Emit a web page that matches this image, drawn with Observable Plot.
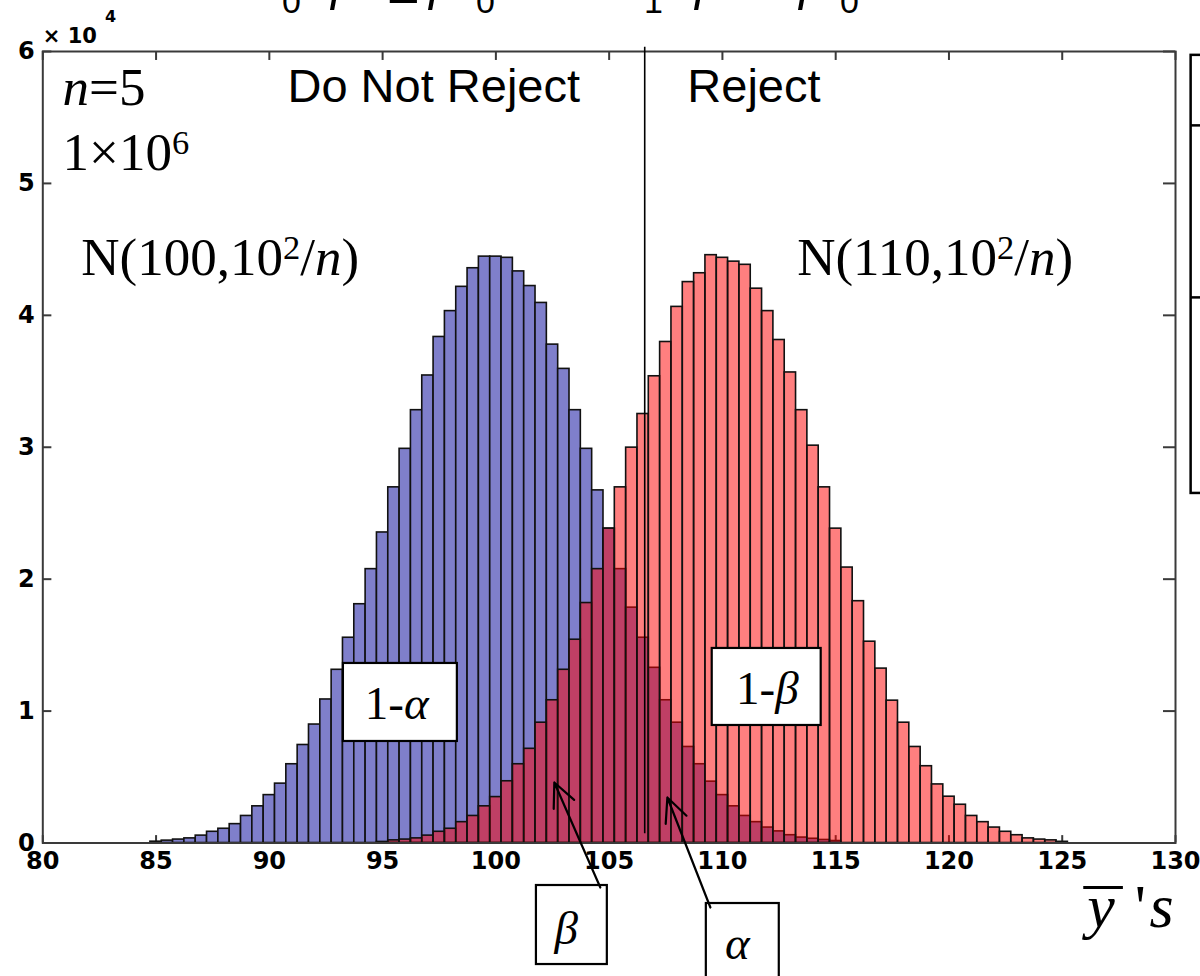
<!DOCTYPE html>
<html>
<head>
<meta charset="utf-8">
<script src="https://cdn.jsdelivr.net/npm/d3@7"></script>
<script src="https://cdn.jsdelivr.net/npm/@observablehq/plot@0.6"></script>
<style>
  html, body { margin: 0; padding: 0; background: #fff; overflow: hidden; }
  #wrap { position: relative; width: 1200px; height: 976px; overflow: hidden; }
  #header { position: absolute; left: 0; top: 0; pointer-events: none; }
</style>
</head>
<body>
<div id="wrap"></div>
<script>
// ---------- data (bins of width 0.5) ----------
const binWidth = 0.5;
const blueCenters = [85,85.5,86,86.5,87,87.5,88,88.5,89,89.5,90,90.5,91,91.5,92,92.5,93,93.5,94,94.5,95,95.5,96,96.5,97,97.5,98,98.5,99,99.5,100,100.5,101,101.5,102,102.5,103,103.5,104,104.5,105,105.5,106,106.5,107,107.5,108,108.5,109,109.5,110,110.5,111,111.5,112,112.5,113,113.5,114,114.5,115];
const blueCounts = [100,180,260,350,560,850,1080,1430,2050,2780,
  3630,4500,5970,7430,8980,10880,13130,15560,18100,20760,
  23540,26960,29880,32810,35440,38360,40320,42160,43570,44450,
  44450,44360,43330,42220,40940,37780,35940,32810,29880,26730,
  23830,20760,17840,15560,13280,10820,9120,7280,5970,4650,
  3630,2780,2050,1580,1170,880,590,410,320,230,150];
const redCenters = [95,95.5,96,96.5,97,97.5,98,98.5,99,99.5,100,100.5,101,101.5,102,102.5,103,103.5,104,104.5,105,105.5,106,106.5,107,107.5,108,108.5,109,109.5,110,110.5,111,111.5,112,112.5,113,113.5,114,114.5,115,115.5,116,116.5,117,117.5,118,118.5,119,119.5,120,120.5,121,121.5,122,122.5,123,123.5,124,124.5,125];
const redCounts = [80,200,260,350,560,850,1080,1580,2050,2780,
  3480,4680,5970,7140,9120,10820,13130,15410,18190,20760,
  23830,26960,29970,32520,35380,37980,40640,42520,43190,44560,
  44360,44070,43830,42020,40320,38130,35670,32810,30120,26960,
  23830,20880,18330,15260,13220,10790,9120,7280,5820,4440,
  3510,2900,2050,1580,1170,850,590,350,260,200,90];
const criticalValue = [106.57];

const xTicks = [80,85,90,95,100,105,110,115,120,125,130];
const yTicks = [0,10000,20000,30000,40000,50000,60000];

// annotation texts
const serifLabels = [
  {text: "<i>n</i>=5", x: 80.87, y: 55920},
  {text: "1×10<sup>6</sup>", x: 80.87, y: 50990},
  {text: "N(100,10<sup>2</sup>/<i>n</i>)", x: 81.7, y: 43030},
  {text: "N(110,10<sup>2</sup>/<i>n</i>)", x: 113.3, y: 43030}
];
const sansLabels = [
  {text: "Do Not Reject", x: 90.8, y: 56145},
  {text: "Reject", x: 108.45, y: 56145}
];
const boxes = [
  {x1: 93.27, x2: 98.30, y1: 7696, y2: 13610},
  {x1: 109.55, x2: 114.36, y1: 8909, y2: 14747},
  {x1: 101.79, x2: 104.92, y1: -9212, y2: -3222},
  {x1: 109.29, x2: 112.51, y1: -11500, y2: -4587}
];
const boxLabels = [
  {text: "1-<i>α</i>", x: 95.62, y: 10577},
  {text: "1-<i>β</i>", x: 111.98, y: 11714},
  {text: "<i>β</i>", x: 103.1, y: -6482},
  {text: "<i>α</i>", x: 110.66, y: -7620}
];
const arrows = [
  {x1: 104.61, y1: -3374, x2: 102.58, y2: 4587},
  {x1: 109.47, y1: -4890, x2: 107.57, y2: 3450}
];
const axisLabelParts = [
  {text: "y", x: 126.1, y: -6331, italic: true},
  {text: "'", x: 128.2, y: -6331, italic: false},
  {text: "s", x: 128.85, y: -6331, italic: true}
];
const overline = [{x1: 125.95, x2: 127.7, y: -3374}];
const legendBox = [{x1: 130.69, x2: 131.8, y1: 26499, y2: 59708}];
const legendRows = [54400, 41360];

// ---------- tables for the marks ----------
const blueBins = blueCenters.map((c, i) => ({x1: c - binWidth / 2, x2: c + binWidth / 2, y: blueCounts[i]}));
const redBins = redCenters.map((c, i) => ({x1: c - binWidth / 2, x2: c + binWidth / 2, y: redCounts[i]}));

const tickFont = "DejaVu Sans";
const serif = "Liberation Serif, Times New Roman, serif";
const sans = "Liberation Sans, Arial, sans-serif";
const frameColor = "#3a3a3a";

const chart = Plot.plot({
  width: 1200,
  height: 976,
  marginLeft: 42.3,
  marginRight: 25,
  marginTop: 51,
  marginBottom: 133.5,
  x: {domain: [80, 130]},
  y: {domain: [0, 60000]},
  style: {background: "white", fontFamily: sans},
  marks: [
    // inward ticks (drawn below the bars)
    Plot.ruleX(xTicks, {y1: 0, y2: 560, stroke: frameColor, strokeWidth: 2}),
    Plot.ruleX(xTicks, {y1: 59320, y2: 60000, stroke: frameColor, strokeWidth: 2}),
    Plot.ruleY(yTicks, {x1: 80, x2: 80.4, stroke: frameColor, strokeWidth: 2}),
    Plot.ruleY(yTicks, {x1: 129.47, x2: 130, stroke: frameColor, strokeWidth: 2}),
    // histograms
    Plot.rectY(blueBins, {x1: "x1", x2: "x2", y: "y", fill: "#7f7fcb", stroke: "#111", strokeWidth: 1.6}),
    Plot.rectY(redBins, {x1: "x1", x2: "x2", y: "y", fill: "#ff0000", fillOpacity: 0.5, stroke: "#111", strokeWidth: 1.6}),
    Plot.frame({stroke: frameColor, strokeWidth: 2}),
    // critical value line
    Plot.ruleX(criticalValue, {y1: 700, y2: 60315, stroke: "black", strokeWidth: 1.6}),
    // axes
    Plot.axisX({ticks: xTicks, tickSize: 0, tickPadding: 9, label: null, fontSize: 24, fontWeight: "bold", fontFamily: tickFont, tickFormat: d => String(d)}),
    Plot.axisY({ticks: yTicks, tickSize: 0, tickPadding: 8, label: null, fontSize: 24, fontWeight: "bold", fontFamily: tickFont, tickFormat: d => String(d / 1e4)}),
    Plot.text(["× 10"], {x: 80, y: 60618, text: d => d, textAnchor: "start", lineAnchor: "bottom", fontSize: 21, fontWeight: "bold", fontFamily: tickFont}),
    Plot.text(["4"], {x: 82.75, y: 62210, text: d => d, textAnchor: "start", lineAnchor: "bottom", fontSize: 16, fontWeight: "bold", fontFamily: tickFont}),
    // annotations
    Plot.text(serifLabels, {x: "x", y: "y", text: "text", textAnchor: "start", lineAnchor: "bottom", fontSize: 53, fontFamily: serif, fill: "black"}),
    Plot.text(sansLabels, {x: "x", y: "y", text: "text", textAnchor: "start", lineAnchor: "bottom", fontSize: 47, fontFamily: sans, fill: "black"}),
    Plot.rect(boxes, {x1: "x1", x2: "x2", y1: "y1", y2: "y2", fill: "white", stroke: "black", strokeWidth: 2.2}),
    Plot.text(boxLabels, {x: "x", y: "y", text: "text", textAnchor: "middle", lineAnchor: "middle", fontSize: 47, fontFamily: serif, fill: "black"}),
    Plot.arrow(arrows, {x1: "x1", y1: "y1", x2: "x2", y2: "y2", stroke: "black", strokeWidth: 2.2, headLength: 18, headAngle: 50}),
    Plot.text(axisLabelParts.filter(d => d.italic), {x: "x", y: "y", text: "text", textAnchor: "start", lineAnchor: "bottom", fontSize: 62, fontFamily: serif, fontStyle: "italic", fill: "black"}),
    Plot.text(axisLabelParts.filter(d => !d.italic), {x: "x", y: "y", text: "text", textAnchor: "start", lineAnchor: "bottom", fontSize: 62, fontFamily: serif, fill: "black"}),
    Plot.ruleY(overline, {x1: "x1", x2: "x2", y: "y", stroke: "black", strokeWidth: 3}),
    // partially visible legend table at right edge
    Plot.rect(legendBox, {x1: "x1", x2: "x2", y1: "y1", y2: "y2", fill: "none", stroke: "black", strokeWidth: 2.5}),
    Plot.ruleY(legendRows, {x1: 130.69, x2: 131.8, stroke: "black", strokeWidth: 2.5})
  ]
});

const wrap = document.getElementById("wrap");
wrap.appendChild(chart);

// convert simple <i>, <sup>, <sub> markup into tspans
function richify(root) {
  const NS = "http://www.w3.org/2000/svg";
  root.querySelectorAll("text").forEach(t => {
    const s = t.textContent;
    if (!/<\/?(i|sup|sub)>/.test(s)) return;
    const fs = parseFloat(getComputedStyle(t).fontSize);
    const parts = s.split(/(<\/?(?:i|sup|sub)>)/).filter(p => p !== "");
    while (t.firstChild) t.removeChild(t.firstChild);
    let italic = false, mode = 0, cur = 0;
    for (const p of parts) {
      if (p === "<i>") { italic = true; continue; }
      if (p === "</i>") { italic = false; continue; }
      if (p === "<sup>") { mode = -0.3; continue; }
      if (p === "<sub>") { mode = 0.25; continue; }
      if (p === "</sup>" || p === "</sub>") { mode = 0; continue; }
      const ts = document.createElementNS(NS, "tspan");
      ts.textContent = p;
      if (italic) ts.setAttribute("font-style", "italic");
      if (mode !== 0) ts.setAttribute("font-size", (fs * 0.65).toFixed(1));
      const delta = (mode - cur) * fs;
      if (delta !== 0) ts.setAttribute("dy", delta.toFixed(1));
      cur = mode;
      t.appendChild(ts);
    }
  });
}
richify(chart);

// cut-off hypotheses line at the very top of the picture
const headerPieces = [
  {t: "H", x: 244, y: -3, fs: 52}, {t: "0", x: 282, y: 13, fs: 34}, {t: ":", x: 302, y: -3, fs: 52},
  {t: "μ", x: 330, y: -1, fs: 52, it: true}, {t: "=", x: 387, y: 12, fs: 56},
  {t: "μ", x: 428, y: -1, fs: 52, it: true}, {t: "0", x: 476, y: 13, fs: 34},
  {t: "H", x: 606, y: -3, fs: 52}, {t: "1", x: 644, y: 13, fs: 34}, {t: ":", x: 664, y: -3, fs: 52},
  {t: "μ", x: 694, y: -1, fs: 52, it: true}, {t: ">", x: 745, y: -3, fs: 52},
  {t: "μ", x: 798, y: -1, fs: 52, it: true}, {t: "0", x: 840, y: 13, fs: 34}
];
const header = d3.select(wrap).append("svg")
  .attr("id", "header").attr("width", 1200).attr("height", 30);
const ht = header.append("text").attr("font-family", sans).attr("fill", "black");
ht.selectAll("tspan").data(headerPieces).join("tspan")
  .attr("x", d => d.x).attr("y", d => d.y)
  .attr("font-size", d => d.fs)
  .attr("font-family", d => d.it ? serif : sans)
  .attr("font-style", d => d.it ? "italic" : "normal")
  .text(d => d.t);
</script>
</body>
</html>
